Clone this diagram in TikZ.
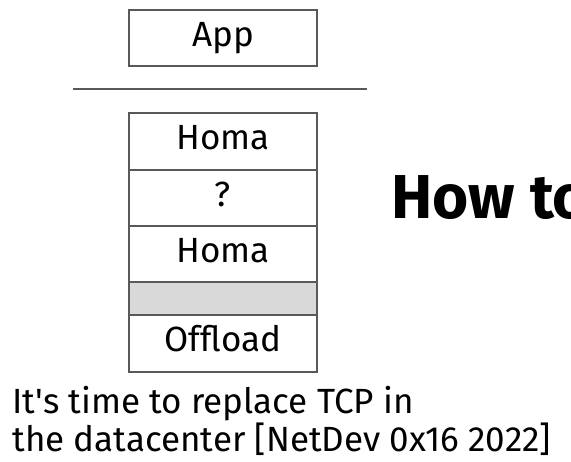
\documentclass[tikz,border=0pt]{standalone}
\usepackage{fontspec}
\setmainfont{Fira Sans}
\begin{document}
\begin{tikzpicture}[x=0.5pt,y=-0.5pt,
        layer/.style={draw=black!65,line width=1pt,minimum width=94pt,inner sep=0pt,outer sep=0pt,
            anchor=north,text height=0.83em,text depth=0pt,font=\fontsize{17.5}{19}\selectfont}]
        \useasboundingbox (0,0) rectangle (571,461);

        \node[layer,fill=white,minimum height=28pt] (app) at (223,10) {App};

        \coordinate (sepl) at (73,89);
        \coordinate (sepr) at (367,89);
        \draw[black!65,line width=1pt] (sepl) -- (sepr);

        \foreach \i/\ytop/\hgt/\fl/\txt in {1/113/57/white/Homa,2/170/56/white/?,3/226/56/white/Homa,4/282/33/black!15/{},5/315/57/white/Offload}
            {
                \node[layer,fill=\fl,minimum height=\hgt*0.5pt] (row\i) at (223,\ytop) {\txt};
            }

        \node[anchor=base west,inner sep=0pt,font=\fontsize{31}{34}\selectfont\bfseries] (how) at (391,218) {How to};

        \node[anchor=north west,align=left,inner sep=0pt,font=\fontsize{17.5}{19}\selectfont] (cite) at (12,386)
            {It\textquotesingle s time to replace TCP in\\the datacenter [NetDev 0x16 2022]};
    \end{tikzpicture}
\end{document}
